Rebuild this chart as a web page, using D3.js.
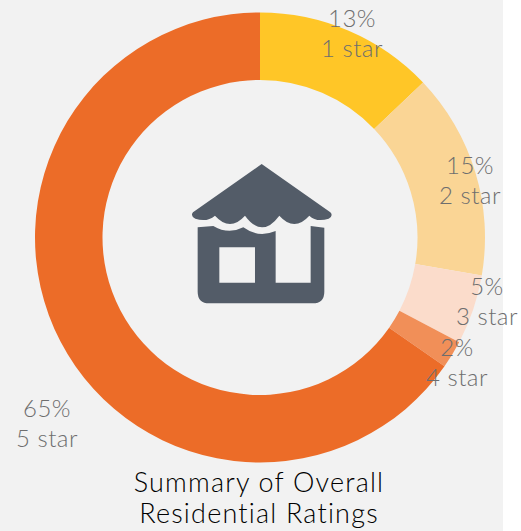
<!DOCTYPE html>
<html>
<head>
<meta charset="utf-8">
<script src="https://cdn.jsdelivr.net/npm/d3@7/dist/d3.min.js"></script>
<style>
html,body{margin:0;padding:0;background:#fff;overflow:hidden}
svg{display:block}
</style>
</head>
<body>
<svg id="chart" width="521" height="531"></svg>
<script>
const categories = ["1 star", "2 star", "3 star", "4 star", "5 star"];
const values = [12.9, 14.8, 5.0, 2.0, 65.3];
const percentLabels = ["13%", "15%", "5%", "2%", "65%"];
const colors = ["#ffc627", "#fad595", "#fbdccb", "#f18f58", "#ec6c28"];
const titleLines = ["Summary of Overall", "Residential Ratings"];

const labelPos = [[352, 27], [470, 174], [487, 295], [457, 356], [47, 417]];
const font = "Lato, 'Open Sans', sans-serif";

const svg = d3.select("#chart");
svg.append("rect").attr("width", 503).attr("height", 531).attr("fill", "#f2f2f2");

const pie = d3.pie().sort(null).value(d => d);
const arc = d3.arc().innerRadius(157.5).outerRadius(225);
const color = d3.scaleOrdinal().domain(categories).range(colors);

svg.append("g").attr("transform", "translate(260,237.5)")
  .selectAll("path").data(pie(values)).join("path")
  .attr("d", arc)
  .attr("fill", (d, i) => color(categories[i]));

// house icon, traced in 3x crop coordinates
const icon = svg.append("g").attr("transform", "translate(170,150) scale(0.3333)").attr("fill", "#535c68");
icon.append("path").attr("d",
  "M275 42 L481 187 Q491 197 476 206 Q440 218 418 197 Q373 247 328 197 Q276 267 225 197 Q180 247 135 197 Q110 218 76 206 Q60 197 69 187 Z");
icon.append("path").attr("fill-rule", "evenodd").attr("d",
  "M83 232 L130 228 Q175 255 220 232 Q265 265 317 243 L317 398 L422 398 L422 228 L463 233 L463 425 Q463 460 428 460 L118 460 Q83 460 83 425 Z " +
  "M148 292 L255 292 L255 398 L148 398 Z");

// labels
const labels = svg.append("g").attr("font-family", font).attr("font-weight", 300)
  .attr("font-size", 24).attr("letter-spacing", 0.5).attr("fill", "#6e6e6e").attr("text-anchor", "middle");
categories.forEach((c, i) => {
  labels.append("text").attr("x", labelPos[i][0]).attr("y", labelPos[i][1]).text(percentLabels[i]);
  labels.append("text").attr("x", labelPos[i][0]).attr("y", labelPos[i][1] + 29.5).text(c);
});

// title
const title = svg.append("g").attr("font-family", font).attr("font-size", 27)
  .attr("font-weight", 300).attr("letter-spacing", 1.2).attr("fill", "#000").attr("text-anchor", "middle");
titleLines.forEach((t, i) => {
  title.append("text").attr("x", 259).attr("y", 492 + i * 31).text(t);
});
</script>
</body>
</html>
